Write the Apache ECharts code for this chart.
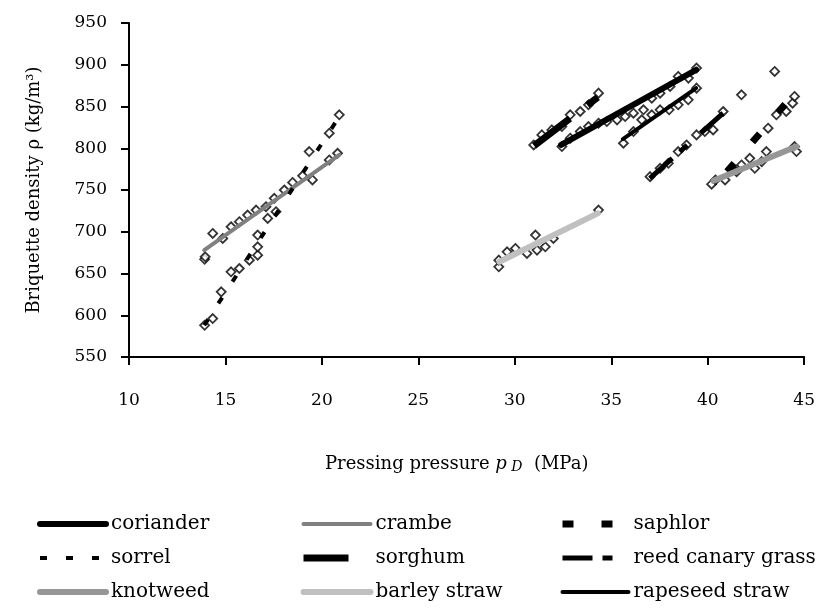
<!DOCTYPE html>
<html>
<head>
<meta charset="utf-8">
<script src="https://cdn.jsdelivr.net/npm/echarts@6/dist/echarts.min.js"></script>
<style>
	html, body { margin: 0; padding: 0; background: #fff; }
	#chart { width: 818px; height: 609px; }
</style>
</head>
<body>
<div id="chart"></div>
<script>
	// measured points [pressure MPa, density kg/m3]
	const corianderPts = [[32.44, 802], [32.87, 812], [33.39, 820], [33.82, 826], [34.34, 830], [34.77, 832], [35.3, 834], [35.72, 838], [36.15, 842], [36.67, 846], [37.1, 860], [37.53, 866], [38.05, 874], [38.47, 886], [39.0, 884], [39.42, 896]];
	const crambePts = [[13.92, 667], [13.95, 670], [14.34, 698], [14.86, 692], [15.29, 706], [15.72, 712], [16.15, 720], [16.59, 726], [17.1, 730], [17.53, 740], [18.05, 750], [18.48, 759], [19.0, 767], [19.51, 762], [20.38, 786], [20.81, 794]];
	const saphlorPts = [[41.75, 864], [43.13, 824], [43.47, 892], [43.56, 840], [44.07, 844], [44.4, 854], [44.5, 862]];
	const sorrelPts = [[13.92, 588], [14.34, 596], [14.78, 628], [15.29, 652], [15.72, 656], [16.24, 666], [16.67, 672], [16.67, 682], [16.67, 696], [17.19, 716], [17.62, 724], [19.34, 796], [20.38, 818], [20.9, 840]];
	const sorghumPts = [[30.98, 804], [31.4, 816], [31.92, 822], [32.44, 826], [32.87, 840], [33.39, 844], [33.82, 852], [34.34, 866]];
	const reedPts = [[37.01, 766], [37.53, 776], [37.96, 782], [38.47, 796], [38.9, 804], [39.42, 816], [39.85, 820], [40.28, 822], [40.8, 844]];
	const knotweedPts = [[40.2, 757], [40.4, 762], [40.9, 762], [41.23, 776], [41.5, 772], [41.75, 780], [42.18, 788], [42.44, 776], [42.8, 784], [43.04, 796], [44.5, 802], [44.6, 796]];
	const barleyPts = [[29.17, 658], [29.17, 666], [29.6, 676], [30.03, 680], [30.63, 674], [31.07, 696], [31.15, 678], [31.58, 682], [32.0, 692], [34.34, 726]];
	const rapeseedPts = [[35.63, 806], [36.15, 820], [36.58, 834], [37.1, 840], [37.53, 846], [38.0, 846], [38.47, 852], [38.99, 858], [39.42, 872]];

	// trend line end points
	const corianderFit = [[32.4, 804], [39.4, 894]];
	const crambeFit = [[13.9, 678], [20.9, 792]];
	const saphlorFit = [[41.0, 772], [44.5, 866]];
	const sorrelFit = [[13.9, 588], [20.9, 838]];
	const sorghumFit = [[31.0, 803], [34.3, 861]];
	const reedFit = [[37.0, 764], [40.9, 844]];
	const knotweedFit = [[40.3, 761], [44.6, 802]];
	const barleyFit = [[29.2, 664], [34.3, 722]];
	const rapeseedFit = [[35.6, 811], [39.4, 872]];

	const names = ['coriander', 'crambe', 'saphlor', 'sorrel', 'sorghum', 'reed canary grass', 'knotweed', 'barley straw', 'rapeseed straw'];
	const points = [corianderPts, crambePts, saphlorPts, sorrelPts, sorghumPts, reedPts, knotweedPts, barleyPts, rapeseedPts];
	const fits = [corianderFit, crambeFit, saphlorFit, sorrelFit, sorghumFit, reedFit, knotweedFit, barleyFit, rapeseedFit];
	const lineStyles = [
		{ color: '#000', width: 6, cap: 'round' },
		{ color: '#808080', width: 4, cap: 'round' },
		{ color: '#000', width: 7, type: [11, 28] },
		{ color: '#000', width: 4, type: [7, 19] },
		{ color: '#000', width: 7, type: [45, 22] },
		{ color: '#000', width: 5, type: [30, 10, 10, 18] },
		{ color: '#969696', width: 6, cap: 'round' },
		{ color: '#c0c0c0', width: 6, cap: 'round' },
		{ color: '#000', width: 4, cap: 'round' },
	];

	const font = 'DejaVu Serif';
	const series = [];
	names.forEach((n, i) => {
		series.push({
			name: n + ' data',
			type: 'scatter',
			data: points[i],
			symbol: 'diamond',
			symbolSize: 9,
			itemStyle: { color: '#fff', borderColor: '#000', borderWidth: 1.8 },
			z: 2,
			silent: true
		});
	});
	names.forEach((n, i) => {
		series.push({
			name: n,
			type: 'line',
			data: fits[i],
			symbol: 'none',
			lineStyle: lineStyles[i],
			itemStyle: { color: lineStyles[i].color },
			z: 3,
			silent: true
		});
	});

	function legendCol(left, width, gap, data) {
		return {
			orient: 'vertical',
			left: left,
			top: 514,
			padding: 0,
			itemWidth: width,
			itemHeight: 20,
			itemGap: 14,
			itemTextGap: gap,
			itemStyle: { color: 'rgba(0,0,0,0)', borderWidth: 0 },
			lineStyle: { width: 'inherit' },
			textStyle: { fontFamily: font, fontSize: 20, color: '#000', lineHeight: 20 },
			selectedMode: false,
			data: data
		};
	}

	const chart = echarts.init(document.getElementById('chart'));
	chart.setOption({
		animation: false,
		backgroundColor: '#fff',
		grid: { left: 129, right: 12, top: 23, bottom: 252 },
		xAxis: {
			type: 'value',
			min: 10,
			max: 45,
			interval: 5,
			splitLine: { show: false },
			axisLine: { onZero: false, lineStyle: { color: '#000', width: 2 } },
			axisTick: { length: 8, lineStyle: { color: '#000', width: 2 } },
			axisLabel: { color: '#000', fontFamily: font, fontSize: 17, margin: 35 }
		},
		yAxis: {
			type: 'value',
			min: 550,
			max: 950,
			interval: 50,
			splitLine: { show: false },
			axisLine: { onZero: false, lineStyle: { color: '#000', width: 2 } },
			axisTick: { length: 8, lineStyle: { color: '#000', width: 2 } },
			axisLabel: { color: '#000', fontFamily: font, fontSize: 17, margin: 22 },
			name: 'Briquette density ρ (kg/m³)',
			nameLocation: 'middle',
			nameRotate: 90,
			nameGap: 86,
			nameTextStyle: { color: '#000', fontFamily: font, fontSize: 18 }
		},
		graphic: [{
			type: 'text',
			left: 325,
			top: 455,
			style: {
				text: '{n|Pressing pressure }{i|p}{d| D}{n|  (MPa)}',
				rich: {
					n: { fontFamily: font, fontSize: 18, fill: '#000' },
					i: { fontFamily: font, fontSize: 18, fontStyle: 'italic', fill: '#000' },
					d: { fontFamily: font, fontSize: 14, fontStyle: 'italic', fill: '#000', padding: [6, 0, 0, 0] }
				}
			}
		}],
		legend: [
			legendCol(37, 66, 5, ['coriander', 'sorrel', 'knotweed']),
			legendCol(300, 67, 3, ['crambe', 'sorghum', 'barley straw']),
			legendCol(559, 66, 5, ['saphlor', 'reed canary grass', 'rapeseed straw'])
		],
		series: series
	});
</script>
</body>
</html>
